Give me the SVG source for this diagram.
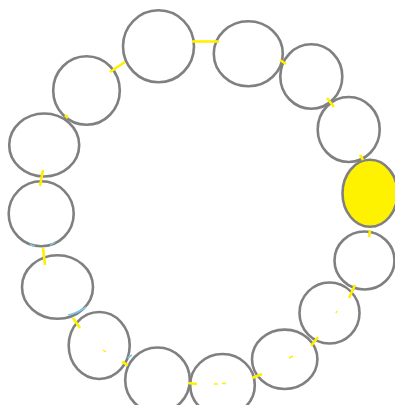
<svg xmlns="http://www.w3.org/2000/svg" width="395" height="405" viewBox="0 0 395 405">
<style>
.n{fill:#fff;stroke:#808080;stroke-width:2.6}
.hot{fill:#fff200;stroke:#808080;stroke-width:2.6}
.c{stroke:#fff000;stroke-width:2.6;fill:none;stroke-linecap:butt}
.t{stroke:#fff000;stroke-width:1.5;fill:none}
.h{stroke:#7ec8e3;stroke-width:1.6;fill:none}
</style>
<rect width="395" height="405" fill="#fff"/>
<g id="n1"><ellipse class="n" cx="158.5" cy="46.3" rx="35.5" ry="36"/></g>
<g id="n2"><ellipse class="n" cx="248.3" cy="53.7" rx="34.5" ry="32.5"/></g>
<g id="n3"><ellipse class="n" cx="311.3" cy="76.5" rx="31" ry="32.2"/></g>
<g id="n4"><ellipse class="n" cx="348.7" cy="129.5" rx="31" ry="32.5"/></g>
<g id="n5"><ellipse class="hot" cx="370" cy="193.3" rx="27.5" ry="33.5"/></g>
<g id="n6"><ellipse class="n" cx="364.5" cy="260.5" rx="30" ry="29"/></g>
<g id="n7"><ellipse class="n" cx="329.5" cy="313" rx="30" ry="30.5"/></g>
<g id="n8"><ellipse class="n" cx="284.7" cy="359.3" rx="32.7" ry="29.7"/></g>
<g id="n9"><ellipse class="n" cx="222.5" cy="385" rx="32.3" ry="31"/></g>
<g id="n10"><ellipse class="n" cx="157.5" cy="380" rx="32.3" ry="32.5"/></g>
<g id="n11"><ellipse class="n" cx="99.2" cy="345.5" rx="30.5" ry="33.5"/></g>
<g id="n12"><ellipse class="n" cx="57.5" cy="287" rx="35.5" ry="31.8"/></g>
<g id="n13"><ellipse class="n" cx="41.2" cy="213.8" rx="32.5" ry="32.5"/></g>
<g id="n14"><ellipse class="n" cx="44.2" cy="145" rx="35" ry="31.5"/></g>
<g id="n15"><ellipse class="n" cx="86.5" cy="90.5" rx="33.3" ry="34.3"/></g>
<g id="connectors">
<line class="c" x1="192" y1="41.5" x2="219" y2="41.5"/>
<line class="c" x1="110" y1="72" x2="125" y2="62"/>
<line class="c" x1="65" y1="115" x2="68" y2="118"/>
<line class="c" x1="280" y1="60" x2="286" y2="64"/>
<line class="c" x1="327" y1="98" x2="334" y2="107"/>
<line class="c" x1="360" y1="155" x2="363" y2="160"/>
<line class="c" x1="370" y1="230" x2="369" y2="237"/>
<line class="c" x1="355" y1="285" x2="349" y2="298"/>
<line class="c" x1="318" y1="337" x2="311" y2="346"/>
<line class="c" x1="262" y1="374" x2="252" y2="378"/>
<line class="c" x1="188" y1="383" x2="197" y2="384"/>
<line class="t" x1="214" y1="384" x2="218" y2="384"/>
<line class="t" x1="222" y1="383.5" x2="226" y2="383.5"/>
<line class="t" x1="289" y1="358" x2="293" y2="356"/>
<line class="t" x1="336" y1="313" x2="337" y2="311"/>
<line class="t" x1="103" y1="350" x2="106" y2="352"/>
<line class="c" x1="122" y1="362" x2="128" y2="365"/>
<line class="c" x1="73" y1="318" x2="80" y2="328"/>
<line class="c" x1="43" y1="248" x2="45" y2="265"/>
<line class="c" x1="43" y1="170" x2="40" y2="186"/>
<path class="h" d="M30,244 Q32,246 35,246"/>
<path class="h" d="M50,245 Q53,244 55,242"/>
<path class="h" d="M68,315 Q78,313 86,307"/>
<path class="h" d="M128,358 Q130,356 132,355"/>
</g>
</svg>
